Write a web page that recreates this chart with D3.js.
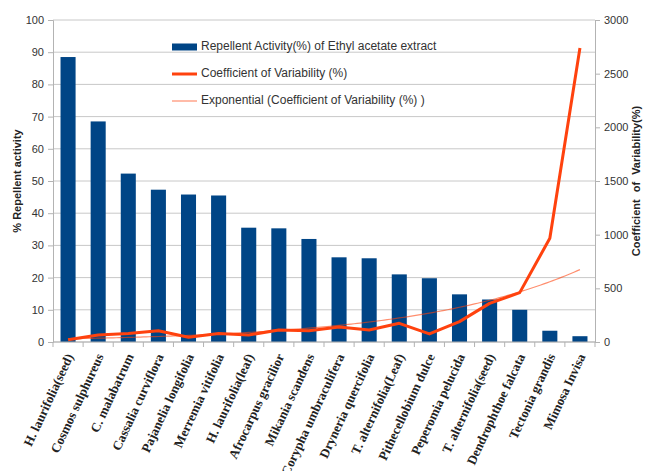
<!DOCTYPE html>
<html><head><meta charset="utf-8">
<script src="https://cdn.jsdelivr.net/npm/d3@7/dist/d3.min.js"></script>
<style>body{margin:0;background:#fff}svg{display:block}</style>
</head><body>
<svg id="c" width="646" height="471"></svg>
<script>
const categories = ["H. laurifolia(seed)","Cosmos sulphureus","C. malabatrum","Cassalia curviflora","Pajanelia longifolia","Merremia vitifolia","H. laurifolia(leaf)","Afrocarpus gracilior","Mikania scandens","Corypha umbraculifera","Dryneria quercifolia","T. alternifolia(Leaf)","Pithecellobium dulce","Peperomia pelucida","T. alternifolia(seed)","Dendrophthoe falcata","Tectonia grandis","Mimosa Invisa"];
const repellent = [88.5,68.5,52.3,47.3,45.8,45.5,35.5,35.3,32,26.3,26,21,19.8,14.8,13.2,10,3.5,1.8];
const cv = [20,65,80,105,45,80,65,112,105,140,112,174,75,190,360,460,966,2740];
const leftTicks = [0,10,20,30,40,50,60,70,80,90,100];
const rightTicks = [0,500,1000,1500,2000,2500,3000];
const legendLabels = ["Repellent Activity(%) of Ethyl acetate extract","Coefficient of Variability (%)","Exponential (Coefficient of Variability (%) )"];

const svg = d3.select("#c");
const L = 53, R = 595, T = 20, B = 342;
const x = d3.scaleBand().domain(categories).range([L, R]).paddingInner(0.5).paddingOuter(0.25);
const yL = d3.scaleLinear().domain([0,100]).range([B, T]);
const yR = d3.scaleLinear().domain([0,3000]).range([B, T]);
const cx = d => x(d) + x.bandwidth()/2;
const grid = "#c8c8c8", axisC = "#b3b3b3";

// gridlines
svg.append("g").selectAll("line").data(leftTicks).join("line")
  .attr("x1", L).attr("x2", R).attr("y1", d=>yL(d)).attr("y2", d=>yL(d))
  .attr("stroke", grid).attr("stroke-width", 1);

// bars
svg.append("g").selectAll("rect").data(repellent).join("rect")
  .attr("x", (d,i)=>x(categories[i])).attr("width", x.bandwidth())
  .attr("y", d=>yL(d)).attr("height", d=>B-yL(d)).attr("fill", "#004586");

// exponential trendline: least squares fit of ln(cv) against index
const n = cv.length;
const xs = cv.map((d,i)=>i+1), ls = cv.map(d=>Math.log(d));
const mx = d3.mean(xs), ml = d3.mean(ls);
const b = d3.sum(xs.map((v,i)=>(v-mx)*(ls[i]-ml))) / d3.sum(xs.map(v=>(v-mx)*(v-mx)));
const a = Math.exp(ml - b*mx);
const trendPts = d3.range(0, 171).map(k => { const t = 1 + k*(n-1)/170; return [t, a*Math.exp(b*t)]; });
const xIdx = d3.scaleLinear().domain([1, n]).range([cx(categories[0]), cx(categories[n-1])]);
svg.append("path").datum(trendPts)
  .attr("d", d3.line().x(d=>xIdx(d[0])).y(d=>yR(d[1])))
  .attr("fill","none").attr("stroke","#ff420e").attr("stroke-opacity",0.6).attr("stroke-width",1.2);

// cv line
svg.append("path").datum(cv)
  .attr("d", d3.line().x((d,i)=>cx(categories[i])).y(d=>yR(d)))
  .attr("fill","none").attr("stroke","#ff420e").attr("stroke-width",3).attr("stroke-linejoin","round");

// axes
const font = "'Liberation Sans', Arial, sans-serif";
const gl = svg.append("g").attr("transform",`translate(${L},0)`)
  .call(d3.axisLeft(yL).tickValues(leftTicks).tickSize(5).tickPadding(4));
const gr = svg.append("g").attr("transform",`translate(${R},0)`)
  .call(d3.axisRight(yR).tickValues(rightTicks).tickFormat(d3.format("d")).tickSize(5).tickPadding(4));
[gl, gr].forEach(g => {
  g.select(".domain").attr("stroke", axisC);
  g.selectAll(".tick line").attr("stroke", axisC);
  g.selectAll("text").attr("font-family", font).attr("font-size", 11).attr("fill","#333");
});
// bottom axis
const gb = svg.append("g").attr("transform",`translate(0,${B})`);
gb.append("line").attr("x1",L).attr("x2",R).attr("stroke",axisC);
const bounds = categories.map(c => x(c) - x.step()*x.paddingInner()/2).concat([R]);
gb.selectAll("line.t").data(bounds).join("line").attr("class","t")
  .attr("x1",d=>d).attr("x2",d=>d).attr("y1",0).attr("y2",5).attr("stroke",axisC);
gb.selectAll("text").data(categories).join("text")
  .attr("transform", d=>`translate(${cx(d)+3},${13}) rotate(-65)`)
  .attr("text-anchor","end").attr("dominant-baseline","middle")
  .attr("font-family","'Liberation Serif', 'Times New Roman', serif").attr("font-weight","bold")
  .attr("font-size",13).attr("fill","#222").text(d=>d);

// axis titles
svg.append("text").attr("transform","translate(21,181) rotate(-90)").attr("text-anchor","middle")
  .attr("font-family",font).attr("font-weight","bold").attr("font-size",11).attr("fill","#222")
  .text("% Repellent activity");
svg.append("text").attr("transform","translate(640,181) rotate(-90)").attr("text-anchor","middle")
  .attr("font-family",font).attr("font-weight","bold").attr("font-size",11).attr("fill","#222")
  .attr("word-spacing", 4).text("Coefficient of Variability(%)");

// legend
const leg = svg.append("g");
const rows = [47, 74, 101];
leg.append("rect").attr("x",172).attr("y",rows[0]-3.5).attr("width",25).attr("height",7).attr("fill","#004586");
leg.append("line").attr("x1",172).attr("x2",197).attr("y1",rows[1]).attr("y2",rows[1]).attr("stroke","#ff420e").attr("stroke-width",3);
leg.append("line").attr("x1",172).attr("x2",197).attr("y1",rows[2]).attr("y2",rows[2]).attr("stroke","#ff420e").attr("stroke-opacity",0.6).attr("stroke-width",1.2);
leg.selectAll("text").data(legendLabels).join("text")
  .attr("x",201).attr("y",(d,i)=>rows[i]).attr("dominant-baseline","middle")
  .attr("font-family",font).attr("font-size",12).attr("fill","#333").text(d=>d);
</script>
</body></html>
